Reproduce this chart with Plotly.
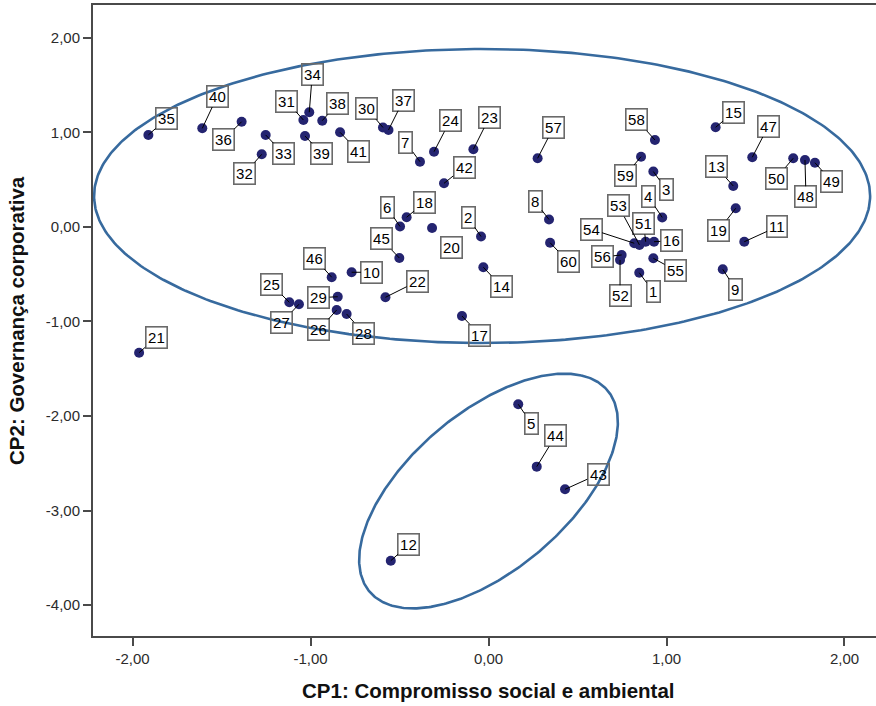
import numpy as np
import plotly.graph_objects as go

# ---- data ----
case_ids = list(range(1, 61))
cp1 = [0.847, -0.042, 0.926, 0.976, 0.167, -0.497, -0.385, 0.340, 1.316, -0.769,
       1.437, -0.549, 1.375, -0.029, 1.276, 0.930, -0.149, -0.460, 1.389, -0.317,
       -1.963, -0.579, -0.085, -0.306, -1.119, -0.853, -1.065, -0.797, -0.847, -0.593,
       -1.040, -1.274, -1.252, -1.007, -1.911, -1.387, -0.562, -0.934, -1.031, -1.608,
       -0.834, -0.250, 0.430, 0.271, -0.501, -0.881, 1.482, 1.778, 1.834, 1.712,
       0.883, 0.739, 0.848, 0.819, 0.926, 0.748, 0.276, 0.935, 0.857, 0.346]
cp2 = [-0.484, -0.101, 0.587, 0.101, -1.876, 0.005, 0.691, 0.079, -0.448, -0.479,
       -0.156, -3.531, 0.434, -0.426, 1.055, -0.156, -0.942, 0.103, 0.198, -0.011,
       -1.330, -0.744, 0.822, 0.797, -0.797, -0.878, -0.818, -0.921, -0.738, 1.053,
       1.132, 0.769, 0.974, 1.214, 0.974, 1.114, 1.026, 1.125, 0.963, 1.044,
       1.002, 0.462, -2.776, -2.536, -0.328, -0.532, 0.738, 0.709, 0.680, 0.727,
       -0.156, -0.349, -0.190, -0.172, -0.331, -0.296, 0.727, 0.921, 0.744, -0.166]

x_ticks = [-2, -1, 0, 1, 2]
y_ticks = [-4, -3, -2, -1, 0, 1, 2]
x_title = "CP1: Compromisso social e ambiental"
y_title = "CP2: Governança corporativa"

# ---- layout helpers (label placement in screen pixels relative to each point) ----
label_dx = [14, -13, 13, -14, 13, -13, -14, -14, 13, 20,
            33, 18, -17, 18, 18, 17, 18, 18, -17, 19,
            17, 32, 16, 16, -18, -18, -17, 17, -19, -16,
            -17, -17, 18, 3, 18, -18, 15, 15, 17, 15,
            18, 20, 33, 19, -18, -17, 16, 1, 17, -17,
            -2, 0, -21, -43, 22, -19, 16, -18, -16, 18]
label_dy = [19, -19, 18, -21, 19, -19, -19, -18, 20, 0,
            -15, -16, -19, 19, -15, -1, 19, -15, 22, 19,
            -15, -16, -32, -31, -18, 20, 18, 19, 1, -19,
            -19, 19, 19, -38, -16, 18, -30, -17, 18, -32,
            19, -16, -15, -31, -19, -19, -31, 37, 19, 20,
            -18, 36, -39, -14, 12, 2, -31, -20, 19, 19]

# ellipses: center, semi-axes (data units), rotation (degrees)
ellipses = [
    dict(cx=-0.036, cy=0.328, a=2.18, b=1.556, angle=0.0),
    dict(cx=0.0, cy=-2.794, a=1.33, b=0.55, angle=66.9),
]

W, H = 876, 706
ML, MR, MT, MB = 93, 0, 5, 70
x_range = [-2.222, 2.177]
y_range = [-4.328, 2.349]

fig = go.Figure()

t = np.linspace(0, 2 * np.pi, 400)
for e in ellipses:
    th = np.deg2rad(e["angle"])
    ex = e["cx"] + e["a"] * np.cos(t) * np.cos(th) - e["b"] * np.sin(t) * np.sin(th)
    ey = e["cy"] + e["a"] * np.cos(t) * np.sin(th) + e["b"] * np.sin(t) * np.cos(th)
    fig.add_trace(go.Scatter(x=ex, y=ey, mode="lines",
                             line=dict(color="#376a9e", width=2.6),
                             hoverinfo="skip", showlegend=False))

fig.add_trace(go.Scatter(x=cp1, y=cp2, mode="markers",
                         marker=dict(size=10, color="#242470", line=dict(width=0)),
                         text=[str(i) for i in case_ids], showlegend=False))

annotations = []
for i, x, y, dx, dy in zip(case_ids, cp1, cp2, label_dx, label_dy):
    annotations.append(dict(
        x=x, y=y, xref="x", yref="y", text=str(i),
        showarrow=True, arrowhead=0, arrowwidth=1, arrowcolor="black",
        ax=dx, ay=dy, standoff=0,
        font=dict(family="Liberation Sans, Arial, sans-serif", size=15, color="black"),
        bgcolor="rgba(255,255,255,0)", bordercolor="#6a6a6a", borderwidth=1.6, borderpad=1.5,
    ))

pw = W - ML - MR
ph = H - MT - MB
def px_to_paper(px, py):
    return (px - ML) / pw, (H - MB - py) / ph

xt, yt = px_to_paper(488, 690)
annotations.append(dict(x=xt, y=yt, xref="paper", yref="paper", text=f"<b>{x_title}</b>",
                        showarrow=False, xanchor="center", yanchor="middle",
                        font=dict(family="Liberation Sans, Arial, sans-serif", size=20.5, color="#111111")))
xt, yt = px_to_paper(16, 321)
annotations.append(dict(x=xt, y=yt, xref="paper", yref="paper", text=f"<b>{y_title}</b>",
                        showarrow=False, xanchor="center", yanchor="middle", textangle=-90,
                        font=dict(family="Liberation Sans, Arial, sans-serif", size=20.5, color="#111111")))

def fmt(v):
    return f"{v:.2f}".replace(".", ",")

axis_common = dict(showgrid=False, zeroline=False, showline=True, linecolor="#4a4a4a",
                   linewidth=2, ticks="outside", ticklen=8, tickwidth=2, tickcolor="#4a4a4a",
                   tickfont=dict(family="Liberation Sans, Arial, sans-serif", size=15, color="#2b2b2b"))

fig.update_layout(
    width=W, height=H,
    margin=dict(l=ML, r=MR, t=MT, b=MB),
    paper_bgcolor="white", plot_bgcolor="white",
    xaxis=dict(range=x_range, tickvals=x_ticks, ticktext=[fmt(v) for v in x_ticks],
               mirror=True, **axis_common),
    yaxis=dict(range=y_range, tickvals=y_ticks, ticktext=[fmt(v) for v in y_ticks],
               mirror=False, **axis_common),
    annotations=annotations,
    showlegend=False,
)

fig.write_html("out.html")
